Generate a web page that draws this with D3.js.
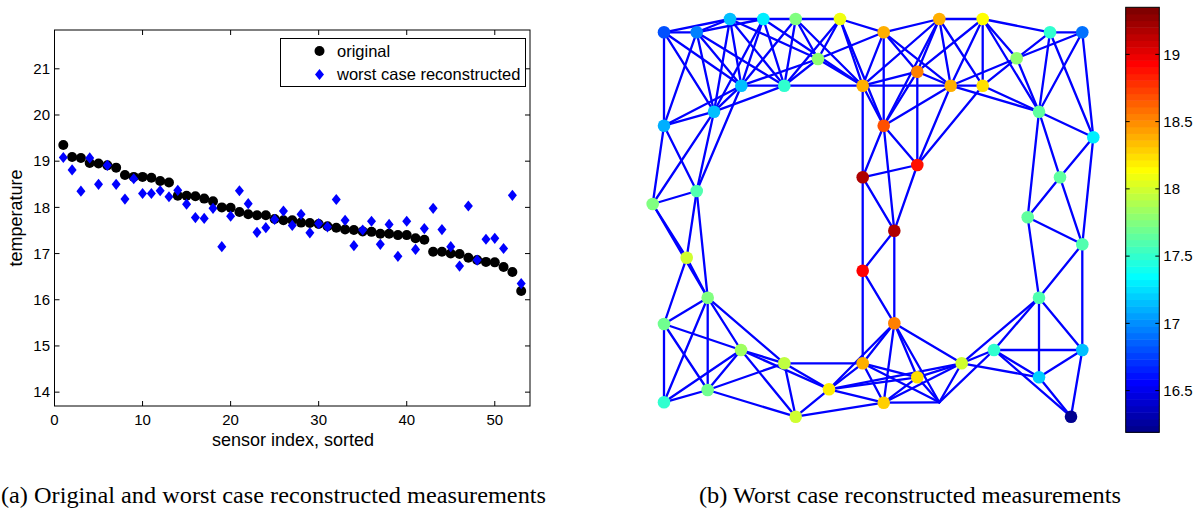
<!DOCTYPE html>
<html>
<head>
<meta charset="utf-8">
<script src="https://cdn.jsdelivr.net/npm/d3@7"></script>
<style>
  html, body { margin: 0; padding: 0; background: #fff; }
  svg { display: block; }
  .tick-label { font-family: "Liberation Sans", Arial, sans-serif; font-size: 15px; fill: #000; }
  .legend-label { font-family: "Liberation Sans", Arial, sans-serif; font-size: 16.5px; fill: #000; }
  .axis-title { font-family: "Liberation Sans", Arial, sans-serif; font-size: 18px; fill: #000; }
  .caption { font-family: "Liberation Serif", "Times New Roman", serif; font-size: 23px; fill: #000; }
</style>
</head>
<body>
<svg id="fig" width="1200" height="512"></svg>
<script>
// ---------- (a) sorted sensor readings ----------
const sensorIndex = d3.range(1, 54);
const originalTemp = [
  19.35, 19.09, 19.07, 18.96, 18.95, 18.91, 18.86, 18.70, 18.66, 18.66,
  18.64, 18.57, 18.54, 18.25, 18.25, 18.24, 18.19, 18.13, 18.00, 17.99,
  17.90, 17.85, 17.83, 17.83, 17.75, 17.72, 17.72, 17.67, 17.66, 17.64,
  17.59, 17.56, 17.52, 17.51, 17.48, 17.47, 17.43, 17.43, 17.40, 17.40,
  17.33, 17.30, 17.04, 17.04, 17.00, 16.99, 16.91, 16.86, 16.82, 16.81,
  16.71, 16.60, 16.19
];
const reconstructedTemp = [
  19.08, 18.81, 18.35, 19.07, 18.50, 18.91, 18.50, 18.18, 18.62, 18.30,
  18.30, 18.36, 18.23, 18.37, 18.07, 17.78, 17.76, 17.98, 17.15, 17.81,
  18.36, 18.08, 17.46, 17.56, 17.74, 17.92, 17.61, 17.85, 17.45, 17.65,
  17.58, 18.17, 17.72, 17.17, 17.51, 17.70, 17.20, 17.63, 16.94, 17.70,
  17.09, 17.54, 17.98, 17.52, 17.15, 16.73, 18.03, 16.86, 17.31, 17.33,
  17.11, 18.26, 16.35
];
const xTicksA = [0, 10, 20, 30, 40, 50];
const yTicksA = [14, 15, 16, 17, 18, 19, 20, 21];
const legendLabels = ["original", "worst case reconstructed"];

// ---------- (b) sensor network layout (floor coordinates) ----------
const nodeX = [
  2.40, 5.67, 9.00, 12.33, 15.57, 20.00, 24.37, 17.80, 10.13, 14.43,
  22.27, 7.40, 2.40, 24.37, 22.27, 5.67, 1.27, 29.93, 34.27, 41.00,
  44.23, 37.67, 27.73, 31.07, 34.27, 39.90, 45.33, 27.73, 42.00, 38.77,
  4.67, 6.77, 2.40, 10.10, 14.43, 6.77, 2.40, 15.57, 18.90, 22.27,
  24.37, 25.43, 22.27, 25.43, 27.73, 32.17, 35.40, 44.23, 39.90, 44.23,
  39.90, 43.10, 29.93
];
const nodeY = [
  3.23, 3.23, 1.90, 1.90, 1.90, 1.90, 3.23, 5.90, 8.57, 8.57,
  8.57, 11.17, 12.57, 12.57, 17.73, 19.10, 20.40, 1.90, 1.90, 3.23,
  3.23, 5.83, 7.17, 8.57, 8.57, 11.17, 13.73, 16.50, 17.73, 21.73,
  25.77, 29.77, 32.40, 35.00, 36.33, 39.00, 40.23, 41.67, 38.93, 36.33,
  40.27, 23.07, 27.07, 32.33, 37.73, 36.33, 35.00, 24.43, 29.77, 35.00,
  37.73, 41.67, 40.23
];
// reconstructed temperature shown at each node (null: no reading)
const nodeTemp = [
  16.82, 16.95, 17.14, 17.30, 17.74, 18.10, 18.40, 17.80, 17.17, 17.52,
  18.40, 17.17, 17.10, 18.70, 19.20, 17.58, 17.74, 18.40, 18.12, 17.48,
  16.90, 17.80, 18.55, 18.40, 18.24, 17.67, 17.30, 18.88, 17.67, 17.67,
  18.00, 17.75, 17.72, 17.85, 17.93, 17.68, 17.50, 18.00, 18.17, 18.40,
  18.30, 19.20, 18.95, 18.55, 18.25, 18.00, 17.50, 17.60, 17.62, 17.15,
  17.18, 16.20, null
];
// radio links between sensors (node index pairs)
const links = [
  [0,1],[0,2],[0,12],[0,8],[0,11],
  [1,2],[1,3],[1,12],[1,11],[1,8],[1,9],
  [2,3],[2,8],[2,11],[2,9],[2,7],
  [3,4],[3,8],[3,11],[3,9],[3,10],
  [4,5],[4,7],[4,9],[4,8],[4,10],
  [5,6],[5,7],[5,9],[5,10],[5,13],
  [6,17],[6,10],[6,13],[6,7],[6,22],[6,23],
  [7,8],[7,9],[7,10],
  [8,9],[8,11],[8,12],[8,15],
  [9,10],[9,11],
  [10,14],[10,13],[10,23],[10,22],[10,17],
  [11,12],[11,16],[11,15],
  [12,16],[12,15],
  [13,14],[13,41],[13,27],[13,22],[13,23],[13,17],
  [14,42],[14,27],[14,41],
  [15,16],[15,30],[15,31],
  [16,30],[16,31],
  [17,18],[17,22],[17,23],[17,24],
  [18,19],[18,22],[18,23],[18,24],[18,21],[18,25],
  [19,20],[19,21],[19,25],[19,26],
  [20,21],[20,25],[20,26],
  [21,25],[21,24],[21,23],
  [22,23],[22,27],
  [23,24],[23,25],[23,27],
  [24,25],[24,27],
  [25,26],[25,28],[25,29],
  [26,28],[26,47],
  [27,41],
  [28,29],[28,47],
  [29,47],[29,48],
  [30,32],[30,31],
  [31,32],[31,35],[31,36],[31,33],[31,34],
  [32,33],[32,35],[32,36],
  [33,36],[33,35],[33,34],[33,37],[33,38],
  [35,36],[35,34],[35,37],
  [34,37],[34,38],[34,39],
  [37,38],[37,40],
  [38,39],[38,43],[38,44],[38,40],[38,45],
  [39,40],[39,43],[39,42],[39,44],[39,52],
  [42,41],[42,43],
  [40,43],[40,52],[40,45],[40,44],
  [41,43],
  [43,44],[43,52],[43,45],
  [44,45],[44,52],
  [52,45],[52,46],
  [45,46],[45,48],[45,50],
  [46,48],[46,49],[46,50],[46,51],
  [48,49],[48,50],[48,47],
  [49,50],[49,51],[49,47],
  [50,51]
];
const colorTicks = [16.5, 17, 17.5, 18, 18.5, 19];
const colorLimits = [16.19, 19.35];
const captions = [
  "(a) Original and worst case reconstructed measurements",
  "(b) Worst case reconstructed measurements"
];

// MATLAB-style jet colormap with m levels
function jet(m) {
  const n = Math.ceil(m / 4);
  const u = [];
  for (let i = 1; i <= n; i++) u.push(i / n);
  for (let i = 1; i < n; i++) u.push(1);
  for (let i = n; i >= 1; i--) u.push(i / n);
  const off = Math.ceil(n / 2) - (m % 4 === 1 ? 1 : 0);
  const J = d3.range(m).map(() => [0, 0, 0]);
  u.forEach((val, k) => {
    const g = off + k + 1, r = g + n, b = g - n;
    if (r >= 1 && r <= m) J[r - 1][0] = val;
    if (g >= 1 && g <= m) J[g - 1][1] = val;
    if (b >= 1 && b <= m) J[b - 1][2] = val;
  });
  return J.map(c => d3.rgb(c[0] * 255, c[1] * 255, c[2] * 255).toString());
}
const jetColors = jet(64);
const colorScale = d3.scaleQuantize().domain(colorLimits).range(jetColors);

const svg = d3.select("#fig");

// ===== Panel (a) =====
const xA = d3.scaleLinear().domain([0, 54]).range([54.5, 530]);
const yA = d3.scaleLinear().domain([13.7, 21.84]).range([406, 30]);
const gA = svg.append("g");

gA.append("rect")
  .attr("x", xA.range()[0]).attr("y", yA.range()[1])
  .attr("width", xA.range()[1] - xA.range()[0])
  .attr("height", yA.range()[0] - yA.range()[1])
  .attr("fill", "#fff").attr("stroke", "#000").attr("stroke-width", 1);

const tickLen = 5;
// ticks point inward on all four sides
xTicksA.forEach(t => {
  const x = xA(t);
  gA.append("line").attr("x1", x).attr("x2", x)
    .attr("y1", yA.range()[0]).attr("y2", yA.range()[0] - tickLen).attr("stroke", "#000");
  gA.append("line").attr("x1", x).attr("x2", x)
    .attr("y1", yA.range()[1]).attr("y2", yA.range()[1] + tickLen).attr("stroke", "#000");
  gA.append("text").attr("class", "tick-label")
    .attr("x", x).attr("y", 425).attr("text-anchor", "middle").text(t);
});
yTicksA.forEach(t => {
  const y = yA(t);
  gA.append("line").attr("x1", xA.range()[0]).attr("x2", xA.range()[0] + tickLen)
    .attr("y1", y).attr("y2", y).attr("stroke", "#000");
  gA.append("line").attr("x1", xA.range()[1]).attr("x2", xA.range()[1] - tickLen)
    .attr("y1", y).attr("y2", y).attr("stroke", "#000");
  gA.append("text").attr("class", "tick-label")
    .attr("x", 50).attr("y", y + 5.3).attr("text-anchor", "end").text(t);
});

gA.append("text").attr("class", "axis-title")
  .attr("transform", "translate(22,218) rotate(-90)")
  .attr("text-anchor", "middle").text("temperature");
gA.append("text").attr("class", "axis-title")
  .attr("x", 293).attr("y", 446).attr("text-anchor", "middle").text("sensor index, sorted");

const diamond = (cx, cy, hw, hh) =>
  `M${cx},${cy - hh}L${cx + hw},${cy}L${cx},${cy + hh}L${cx - hw},${cy}Z`;

gA.append("g").selectAll("circle").data(originalTemp).join("circle")
  .attr("cx", (d, i) => xA(sensorIndex[i])).attr("cy", d => yA(d))
  .attr("r", 5).attr("fill", "#000");

gA.append("g").selectAll("path").data(reconstructedTemp).join("path")
  .attr("d", (d, i) => diamond(xA(sensorIndex[i]), yA(d), 4.5, 5.6))
  .attr("fill", "#0000ff");

// legend
const leg = gA.append("g");
leg.append("rect").attr("x", 280.5).attr("y", 38.5).attr("width", 245).attr("height", 48)
  .attr("fill", "#fff").attr("stroke", "#000").attr("stroke-width", 1);
leg.append("circle").attr("cx", 319.5).attr("cy", 51).attr("r", 5).attr("fill", "#000");
leg.append("path").attr("d", diamond(319.5, 74.5, 4.5, 5.6)).attr("fill", "#0000ff");
leg.append("text").attr("class", "legend-label").attr("x", 337).attr("y", 57).text(legendLabels[0]);
leg.append("text").attr("class", "legend-label").attr("x", 337).attr("y", 80).text(legendLabels[1]);

// ===== Panel (b) =====
const xB = d3.scaleLinear().domain([0, 50]).range([640, 1140]);
const yB = d3.scaleLinear().domain([0, 45]).range([0, 450]);
const gB = svg.append("g");

gB.append("g").selectAll("line").data(links).join("line")
  .attr("x1", d => xB(nodeX[d[0]])).attr("y1", d => yB(nodeY[d[0]]))
  .attr("x2", d => xB(nodeX[d[1]])).attr("y2", d => yB(nodeY[d[1]]))
  .attr("stroke", "#0000ff").attr("stroke-width", 2.3).attr("stroke-linecap", "round");

const nodes = d3.range(nodeX.length).filter(i => nodeTemp[i] !== null);
gB.append("g").selectAll("circle").data(nodes).join("circle")
  .attr("cx", i => xB(nodeX[i])).attr("cy", i => yB(nodeY[i]))
  .attr("r", 6.3).attr("fill", i => colorScale(nodeTemp[i]));

// colorbar
const yC = d3.scaleLinear().domain(colorLimits).range([432.3, 7.3]);
const cbX = 1125.7, cbW = 33.6;
const step = (colorLimits[1] - colorLimits[0]) / jetColors.length;
gB.append("g").selectAll("rect").data(jetColors).join("rect")
  .attr("x", cbX)
  .attr("y", (c, i) => yC(colorLimits[0] + (i + 1) * step))
  .attr("width", cbW)
  .attr("height", (c, i) => yC(colorLimits[0] + i * step) - yC(colorLimits[0] + (i + 1) * step) + 0.5)
  .attr("fill", c => c);
gB.append("rect").attr("x", cbX).attr("y", yC.range()[1]).attr("width", cbW)
  .attr("height", yC.range()[0] - yC.range()[1])
  .attr("fill", "none").attr("stroke", "#000").attr("stroke-width", 1);
colorTicks.forEach(t => {
  const y = yC(t);
  gB.append("line").attr("x1", cbX + cbW - 4).attr("x2", cbX + cbW)
    .attr("y1", y).attr("y2", y).attr("stroke", "#000");
  gB.append("line").attr("x1", cbX).attr("x2", cbX + 4)
    .attr("y1", y).attr("y2", y).attr("stroke", "#000");
  gB.append("text").attr("class", "tick-label")
    .attr("x", cbX + cbW + 4).attr("y", y + 5.3).text(t);
});

// sub-figure captions
svg.append("text").attr("class", "caption").attr("x", 1).attr("y", 503)
  .attr("textLength", 545).attr("lengthAdjust", "spacingAndGlyphs").text(captions[0]);
svg.append("text").attr("class", "caption").attr("x", 699).attr("y", 503)
  .attr("textLength", 422).attr("lengthAdjust", "spacingAndGlyphs").text(captions[1]);
</script>
</body>
</html>
